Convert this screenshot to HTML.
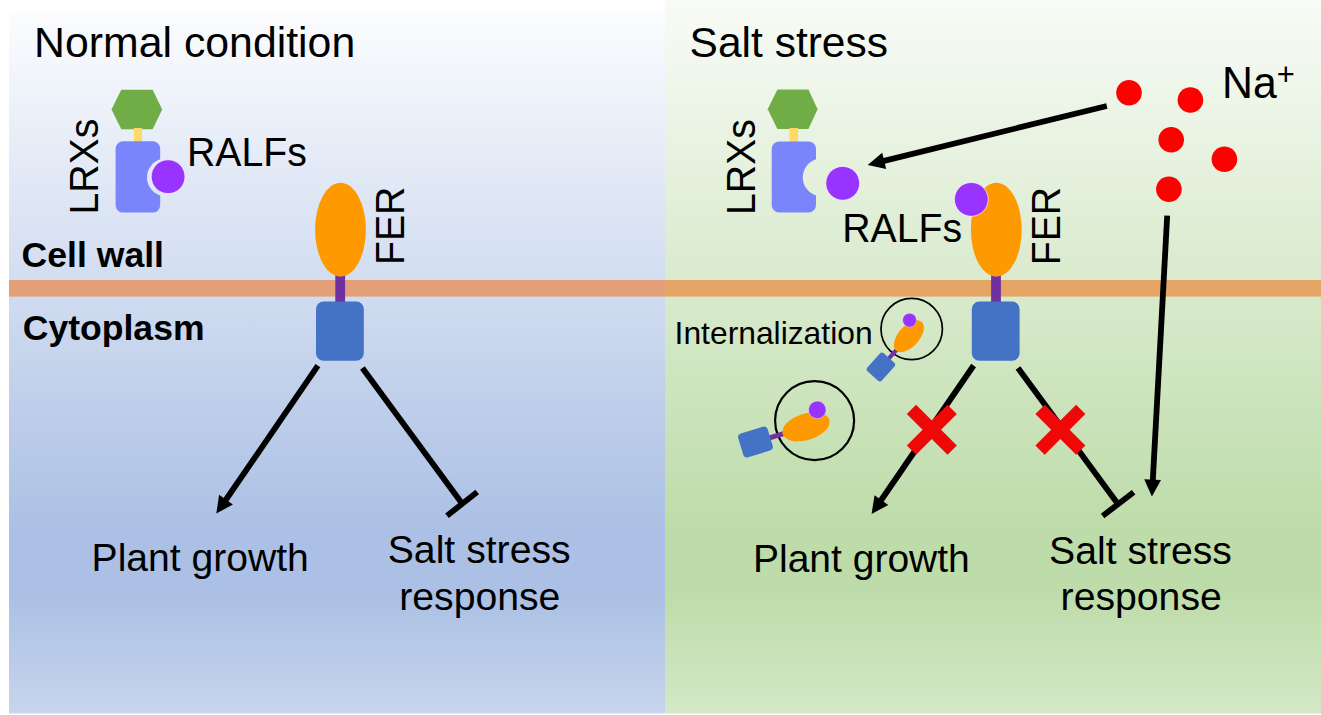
<!DOCTYPE html>
<html lang="en">
<head>
<meta charset="utf-8">
<title>FER salt stress model</title>
<style>
html,body{margin:0;padding:0;background:#fff;}
body{width:1321px;height:715px;overflow:hidden;}
svg{display:block;}
text{font-family:"Liberation Sans",sans-serif;fill:#000;}
.t42{font-size:42.8px;}
.t38{font-size:39.2px;}
.b35{font-size:35.6px;font-weight:bold;}
.t32{font-size:31.8px;}
</style>
</head>
<body>
<svg width="1321" height="715" viewBox="0 0 1321 715">
<defs>
<linearGradient id="gl" x1="0" y1="0" x2="0" y2="1">
<stop offset="0" stop-color="#fbfcfe"/>
<stop offset="0.74" stop-color="#abc0e4"/>
<stop offset="0.83" stop-color="#abc0e4"/>
<stop offset="1" stop-color="#c7d5ed"/>
</linearGradient>
<linearGradient id="gr" x1="0" y1="0" x2="0" y2="1">
<stop offset="0" stop-color="#f8fbf6"/>
<stop offset="0.74" stop-color="#bedcaa"/>
<stop offset="0.83" stop-color="#bedcaa"/>
<stop offset="1" stop-color="#d4e8c6"/>
</linearGradient>
<g id="fer">
<rect x="-5.2" y="40" width="9.8" height="35" fill="#7030a0"/>
<ellipse cx="0" cy="0" rx="25.4" ry="47" fill="#ff9900"/>
<rect x="-24.5" y="71.8" width="47.8" height="59.2" rx="7.5" ry="7.5" fill="#4472c4"/>
</g>
<g id="ferp">
<use href="#fer"/>
<circle cx="-25" cy="-30.3" r="16.9" fill="#9933ff" stroke="#fff" stroke-opacity="0.75" stroke-width="0.9"/>
</g>
<g id="xmark" fill="#f00808">
<rect x="-28.8" y="-6.55" width="57.6" height="13.1" transform="rotate(45)"/>
<rect x="-28.8" y="-6.55" width="57.6" height="13.1" transform="rotate(-45)"/>
</g>
</defs>

<!-- panels -->
<rect x="9" y="13" width="656" height="700.5" fill="url(#gl)"/>
<rect x="665" y="0" width="656" height="713.5" fill="url(#gr)"/>

<!-- membrane -->
<rect x="9" y="280" width="656" height="16.6" fill="#e3a078"/>
<rect x="665" y="280" width="656" height="16.6" fill="#e4a567"/>

<!-- ===== LEFT PANEL ===== -->
<text class="t42" x="34.1" y="57.3">Normal condition</text>

<!-- LRX left -->
<polygon points="111.5,109.5 121.3,89.8 152.6,89.8 162.2,109.5 152.6,129.2 121.3,129.2" fill="#70ad47"/>
<rect x="133.8" y="128" width="8.2" height="15" fill="#ffd966"/>
<path d="M123.1,141.3 H152.7 A7.5,7.5 0 0 1 160.2,148.8 V159.3 A19,19 0 0 0 160.2,195.5 V205.1 A7.5,7.5 0 0 1 152.7,212.6 H123.1 A7.5,7.5 0 0 1 115.6,205.1 V148.8 A7.5,7.5 0 0 1 123.1,141.3 Z" fill="#7a85fb"/>
<circle cx="168.1" cy="176.7" r="16.9" fill="#9933ff" stroke="#fff" stroke-opacity="0.75" stroke-width="0.9"/>
<text class="t38" transform="translate(98,214.5) rotate(-90) scale(1,1.04)">LRXs</text>
<text class="t38" transform="translate(187,165.9) scale(1,1.04)">RALFs</text>

<text class="b35" x="21.6" y="267.3">Cell wall</text>
<text class="b35" x="22.7" y="340.3">Cytoplasm</text>

<use href="#fer" x="340.5" y="229.7"/>
<text class="t38" transform="translate(403.7,265) rotate(-90) scale(1,1.04)">FER</text>

<!-- arrows left -->
<g stroke="#000" stroke-width="5.8" fill="none">
<line x1="317.9" y1="365.7" x2="224" y2="502.5"/>
<line x1="362.4" y1="368" x2="462.2" y2="503.8"/>
<line x1="447" y1="515.8" x2="477.2" y2="491.9"/>
</g>
<polygon points="216.3,513.6 219.1,494.8 232.9,504.5" fill="#000"/>

<text class="t38" style="font-size:39.1px" x="91.6" y="571.3">Plant growth</text>
<text class="t38" text-anchor="middle" x="479.2" y="563.3">Salt stress</text>
<text class="t38" text-anchor="middle" x="479.8" y="610">response</text>

<!-- ===== RIGHT PANEL ===== -->
<text class="t42" style="font-size:42.5px" x="689.6" y="57">Salt stress</text>

<!-- LRX right -->
<polygon points="767.7,109.3 777.4,89.6 808.4,89.6 817.6,109.3 808.4,129 777.4,129" fill="#70ad47"/>
<rect x="789.5" y="128" width="8.6" height="15" fill="#ffd966"/>
<path d="M779.2,141.4 H808.5 A7.5,7.5 0 0 1 816,148.9 V159.3 A19,19 0 0 0 816,195.5 V205 A7.5,7.5 0 0 1 808.5,212.5 H779.2 A7.5,7.5 0 0 1 771.7,205 V148.9 A7.5,7.5 0 0 1 779.2,141.4 Z" fill="#7a85fb"/>
<circle cx="842.7" cy="183.3" r="16.9" fill="#9933ff" stroke="#fff" stroke-opacity="0.75" stroke-width="0.9"/>
<text class="t38" transform="translate(755.2,215) rotate(-90) scale(1,1.04)">LRXs</text>
<text class="t38" transform="translate(842.2,242.4) scale(1,1.04)">RALFs</text>

<use href="#ferp" x="996.3" y="229.7"/>
<text class="t38" transform="translate(1060.3,265.3) rotate(-90) scale(1,1.04)">FER</text>

<!-- Na+ -->
<g fill="#ff0000">
<circle cx="1129" cy="92.8" r="12.8"/>
<circle cx="1190.4" cy="100" r="12.8"/>
<circle cx="1171.2" cy="139.7" r="12.8"/>
<circle cx="1224.4" cy="159.3" r="12.8"/>
<circle cx="1168.9" cy="189.3" r="12.8"/>
</g>
<text class="t42" transform="translate(1222,97.7) scale(1,1.04)">Na<tspan font-size="31" dy="-12.6">+</tspan></text>

<!-- arrows from Na -->
<g stroke="#000" stroke-width="5.8" fill="none">
<line x1="1106.8" y1="106" x2="881" y2="161.6"/>
<line x1="1167.2" y1="215.7" x2="1152.6" y2="484"/>
</g>
<polygon points="867.7,164.9 882.2,152.7 886.2,169" fill="#000"/>
<polygon points="1151.9,496.5 1144.2,479.2 1161,480.1" fill="#000"/>

<!-- internalization -->
<text class="t32" x="674.6" y="343.9">Internalization</text>
<circle cx="911.7" cy="329" r="30.7" fill="none" stroke="#000" stroke-width="1.7"/>
<g transform="translate(908.9,336.3) rotate(42) scale(0.41)"><use href="#ferp"/></g>
<circle cx="814.6" cy="420.6" r="39.5" fill="none" stroke="#000" stroke-width="2.2"/>
<g transform="translate(806,426.9) rotate(73) scale(0.52)"><use href="#ferp"/></g>

<!-- arrows right -->
<g stroke="#000" stroke-width="5.8" fill="none">
<line x1="973.6" y1="365.5" x2="879.5" y2="502.5"/>
<line x1="1018" y1="368" x2="1117.9" y2="504"/>
<line x1="1102.6" y1="516" x2="1133.6" y2="492.2"/>
</g>
<polygon points="871.6,514 874.5,495.2 888.3,504.9" fill="#000"/>
<use href="#xmark" x="931.8" y="429.7"/>
<use href="#xmark" x="1060.4" y="429.7"/>

<text class="t38" style="font-size:39px" x="753" y="572.3">Plant growth</text>
<text class="t38" text-anchor="middle" x="1140.5" y="563.8">Salt stress</text>
<text class="t38" text-anchor="middle" x="1141.2" y="610.4">response</text>
</svg>
</body>
</html>
